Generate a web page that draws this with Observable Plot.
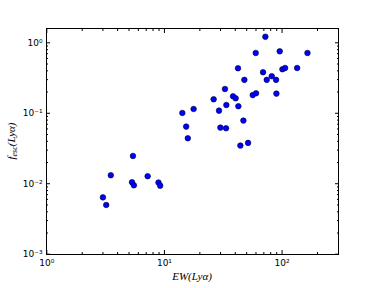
<!DOCTYPE html>
<html>
<head>
<meta charset="utf-8">
<script src="https://cdn.jsdelivr.net/npm/d3@7"></script>
<script src="https://cdn.jsdelivr.net/npm/@observablehq/plot@0.6"></script>
<style>
  html, body { margin: 0; padding: 0; background: #fff; }
  #chart svg { display: block; }
</style>
</head>
<body>
<div id="chart"></div>
<script>
// Data (EW(Lyα) vs f_esc(Lyα))
const ew = [3.0, 3.2, 3.5, 5.4, 5.3, 5.5, 7.2, 8.9, 9.2, 14.2, 15.3, 15.8, 17.7, 26.2, 29.1, 29.9, 32.7, 33.4, 33.6, 38.3, 40.3, 42.2, 42.5, 44.2, 46.9, 47.8, 51.4, 56.3, 59.7, 60.1, 68.9, 72.1, 74.1, 81.7, 88.9, 89.5, 95.5, 100.7, 106.1, 134.3, 164.4];
const fesc = [0.0064, 0.0050, 0.0132, 0.0248, 0.0105, 0.0095, 0.0128, 0.0104, 0.0094, 0.101, 0.0647, 0.0442, 0.115, 0.158, 0.109, 0.0626, 0.221, 0.0613, 0.131, 0.174, 0.163, 0.435, 0.126, 0.0348, 0.0788, 0.298, 0.0380, 0.181, 0.718, 0.192, 0.382, 1.22, 0.298, 0.336, 0.298, 0.190, 0.757, 0.421, 0.439, 0.439, 0.718];
const xMajor = [1, 10, 100];
const yMajor = [0.001, 0.01, 0.1, 1];
const xDomain = [1, 300];
const yDomain = [0.001, 1.58];

const points = ew.map((x, i) => ({x, y: fesc[i]}));
const minorTicks = (lo, hi) => {
  const out = [];
  for (let e = Math.floor(Math.log10(lo)); e <= Math.ceil(Math.log10(hi)); e++)
    for (let m = 2; m <= 9; m++) {
      const v = m * Math.pow(10, e);
      if (v > lo && v < hi) out.push(v);
    }
  return out;
};
const xMinor = minorTicks(xDomain[0], xDomain[1]);
const yMinor = minorTicks(yDomain[0], yDomain[1]);
const supMap = {"-": "\u207B", "0": "\u2070", "1": "\u00B9", "2": "\u00B2", "3": "\u00B3"};
const pow10 = d => "10" + String(Math.round(Math.log10(d))).split("").map(c => supMap[c]).join("");
const blank = () => "";

const W = 374, H = 288;
const chart = Plot.plot({
  width: W,
  height: H,
  marginLeft: 46,
  marginRight: 36,
  marginTop: 28,
  marginBottom: 34,
  style: {fontFamily: "DejaVu Sans", fontSize: "9px", background: "#fff", overflow: "visible"},
  x: {type: "log", domain: xDomain, range: [46.3, 337.7]},
  y: {type: "log", domain: yDomain, range: [253.7, 28.3]},
  marks: [
    // tick labels
    Plot.axisX({anchor: "bottom", ticks: xMajor, tickSize: 0, tickPadding: 5, tickFormat: pow10, label: null, fill: "black"}),
    Plot.axisY({anchor: "left", ticks: yMajor, tickSize: 0, tickPadding: 4, tickFormat: pow10, label: null, fill: "black"}),
    // inward tick marks, all four sides
    Plot.axisX({anchor: "bottom", ticks: xMajor, tickSize: -4, tickFormat: blank, label: null}),
    Plot.axisX({anchor: "bottom", ticks: xMinor, tickSize: -2, tickFormat: blank, label: null}),
    Plot.axisX({anchor: "top", ticks: xMajor, tickSize: -4, tickFormat: blank, label: null}),
    Plot.axisX({anchor: "top", ticks: xMinor, tickSize: -2, tickFormat: blank, label: null}),
    Plot.axisY({anchor: "left", ticks: yMajor, tickSize: -4, tickFormat: blank, label: null}),
    Plot.axisY({anchor: "left", ticks: yMinor, tickSize: -2, tickFormat: blank, label: null}),
    Plot.axisY({anchor: "right", ticks: yMajor, tickSize: -4, tickFormat: blank, label: null}),
    Plot.axisY({anchor: "right", ticks: yMinor, tickSize: -2, tickFormat: blank, label: null}),
    Plot.dot(points, {x: "x", y: "y", r: 2.8, fill: "#0000ff", stroke: "#000033", strokeWidth: 0.6}),
    Plot.frame({stroke: "black", strokeWidth: 1})
  ]
});

// axis titles (math-style text with subscript)
const svg = d3.select(chart);
const xr = chart.scale("x").range, yr = chart.scale("y").range;
const serif = "'Liberation Serif', 'DejaVu Serif', serif";
svg.append("text")
  .attr("x", (xr[0] + xr[1]) / 2).attr("y", 280)
  .attr("text-anchor", "middle")
  .attr("font-family", serif).attr("font-style", "italic").attr("font-size", 11)
  .text("EW(Lyα)");
const yl = svg.append("text")
  .attr("transform", `translate(15,${(yr[0] + yr[1]) / 2}) rotate(-90)`)
  .attr("text-anchor", "middle")
  .attr("font-family", serif).attr("font-style", "italic").attr("font-size", 11);
yl.append("tspan").text("f");
yl.append("tspan").attr("font-size", 8).attr("dy", 2).text("esc");
yl.append("tspan").attr("dy", -2).text("(Lyα)");

document.getElementById("chart").appendChild(chart);
</script>
</body>
</html>
